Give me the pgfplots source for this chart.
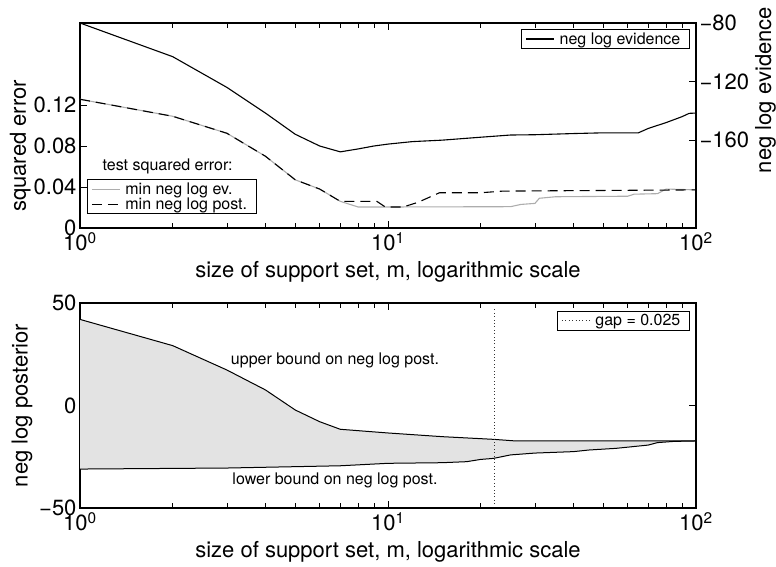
\documentclass[border=0pt]{standalone}
\usepackage{pgfplots}
\pgfplotsset{compat=1.18}
\usepackage{pgfplotstable}
\usepackage{fontspec}
\setmainfont{TeX Gyre Heros}

\definecolor{evgray}{gray}{0.68}
\definecolor{bandgray}{gray}{0.89}

% neg log evidence vs support set size
\pgfplotstableread{
m   nle
1   -80
2   -103
3   -124
4   -141.5
5   -156
6   -164
7   -168
8   -166
9   -164
10  -162.7
12  -161
15  -160
20  -158
25  -156.5
30  -156.3
40  -155.5
50  -155
65  -155
70  -152
80  -148
90  -144
95  -141.7
100 -141.5
}\evidence

% test squared error, model chosen by min neg log evidence
\pgfplotstableread{
m   err
1   0.1256
2   0.109
3   0.0924
4   0.070
5   0.047
6   0.038
7   0.026
8   0.0205
10  0.0205
25  0.0208
27  0.023
30  0.024
31  0.029
35  0.0305
60  0.031
63  0.033
75  0.0335
80  0.038
100 0.0372
}\errev

% test squared error, model chosen by min neg log posterior
\pgfplotstableread{
m    err
1    0.1256
2    0.109
3    0.0924
4    0.070
5    0.047
6    0.038
7    0.026
9.2  0.026
9.8  0.0205
11.2 0.0205
12.5 0.025
14.7 0.0344
20   0.0344
23.6 0.036
100  0.0372
}\errpost

% bounds on neg log posterior
\pgfplotstableread{
m   ub
1   42
2   29.2
3   17.3
4   7.6
5   -2.2
6   -7.9
7   -11.6
10  -13.4
15  -15.2
22  -16.5
26  -17.3
100 -17.3
}\upperb

\pgfplotstableread{
m   lb
1   -31
3   -30.5
7   -29.4
10  -28.2
15  -27.9
18  -27.4
20  -26.3
22  -25.8
25  -24.1
30  -23.2
40  -22.5
45  -21.7
55  -20.9
70  -19.3
75  -18.1
85  -17.5
100 -17.3
}\lowerb

% region between the bounds: upper bound left to right, lower bound back
\pgfplotstableread{
m   v
1   42
2   29.2
3   17.3
4   7.6
5   -2.2
6   -7.9
7   -11.6
10  -13.4
15  -15.2
22  -16.5
26  -17.3
100 -17.3
85  -17.5
75  -18.1
70  -19.3
55  -20.9
45  -21.7
40  -22.5
30  -23.2
25  -24.1
22  -25.8
20  -26.3
18  -27.4
15  -27.9
10  -28.2
7   -29.4
3   -30.5
1   -31
}\band

% common look of all axes
\pgfplotsset{
  legend image code/.code={\draw[#1] (5pt,0pt) -- (33pt,0pt);},
  every axis/.append style={
    scale only axis, width=616pt, height=205pt,
    xmin=1, xmax=100,
    tick align=inside,
    major tick length=7pt, minor tick length=5pt,
    axis line style={line width=1.2pt},
    tick label style={font=\fontsize{22}{26}\selectfont},
    x tick label style={yshift=-1pt},
    label style={font=\fontsize{22}{26}\selectfont},
    legend style={font=\fontsize{16}{19}\selectfont, draw=black, line width=1pt,
      fill=white, inner xsep=4pt, inner ysep=1pt, row sep=-2pt,
      nodes={inner xsep=5pt}},
    legend cell align=left,
  },
  every tick/.style={black, line width=0.7pt},
}

\begin{document}
\begin{tikzpicture}
\useasboundingbox (0,0) rectangle (776pt,566pt);

% upper panel, left scale: test squared error
\begin{semilogxaxis}[
  at={(80pt,338pt)}, anchor=south west,
  xtick={1,10,100},
  xticklabels={10\textsuperscript{0},10\textsuperscript{1},10\textsuperscript{2}},
  minor xtick={2,3,4,5,6,7,8,9,20,30,40,50,60,70,80,90},
  ymin=0, ymax=0.2,
  ytick={0,0.04,0.08,0.12},
  yticklabels={0,0.04,0.08,0.12},
  ytick pos=left,
  xlabel={size of support set, m, logarithmic scale},
  xlabel style={at={(axis description cs:0.5,-0.215)}, anchor=center},
  ylabel={squared error},
  ylabel style={at={(axis description cs:-0.097,0.4)}, anchor=center},
  legend style={at={(axis description cs:0.011,0.239)}, anchor=north west},
]
\addplot[evgray, line width=1.1pt] table[x=m, y=err] {\errev};
\addlegendentry{min neg log ev.}
\addplot[black, line width=1.1pt, dash pattern=on 10pt off 6pt] table[x=m, y=err] {\errpost};
\addlegendentry{min neg log post.}
\node[anchor=west, font=\fontsize{16}{19}\selectfont]
  at (axis description cs:0.031,0.298) {test squared error:};
\end{semilogxaxis}

% upper panel, right scale: neg log evidence
\begin{semilogxaxis}[
  at={(80pt,338pt)}, anchor=south west,
  axis x line=none, axis y line*=right,
  ymin=-220, ymax=-80,
  ytick={-160,-120,-80},
  yticklabels={−160,−120,−80},
  ylabel={neg log evidence},
  ylabel style={at={(axis description cs:1.113,0.673)}, anchor=center},
  legend style={at={(axis description cs:0.990,0.971)}, anchor=north east},
]
\addplot[black, line width=1.1pt] table[x=m, y=nle] {\evidence};
\addlegendentry{neg log evidence}
\end{semilogxaxis}

% lower panel: bounds on neg log posterior
\begin{semilogxaxis}[
  at={(80pt,58pt)}, anchor=south west,
  xtick={1,10,100},
  xticklabels={10\textsuperscript{0},10\textsuperscript{1},10\textsuperscript{2}},
  minor xtick={2,3,4,5,6,7,8,9,20,30,40,50,60,70,80,90},
  ymin=-50, ymax=50,
  ytick={-50,0,50},
  yticklabels={−50,0,50},
  xlabel={size of support set, m, logarithmic scale},
  xlabel style={at={(axis description cs:0.5,-0.215)}, anchor=center},
  ylabel={neg log posterior},
  ylabel style={at={(axis description cs:-0.094,0.5)}, anchor=center},
  legend style={at={(axis description cs:0.990,0.961)}, anchor=north east},
]
\addplot[fill=bandgray, draw=none, forget plot] table[x=m, y=v] {\band};
\addplot[black, line width=1pt, forget plot] table[x=m, y=ub] {\upperb};
\addplot[black, line width=1pt, forget plot] table[x=m, y=lb] {\lowerb};
\addplot[black!80, line width=1pt, dash pattern=on 0.8pt off 2.6pt] coordinates {(22.1,-48) (22.1,48)};
\addlegendentry{gap = 0.025}
\node[font=\fontsize{16}{19}\selectfont] at (axis description cs:0.414,0.722) {upper bound on neg log post.};
\node[font=\fontsize{16}{19}\selectfont] at (axis description cs:0.414,0.137) {lower bound on neg log post.};
\end{semilogxaxis}
\end{tikzpicture}
\end{document}
